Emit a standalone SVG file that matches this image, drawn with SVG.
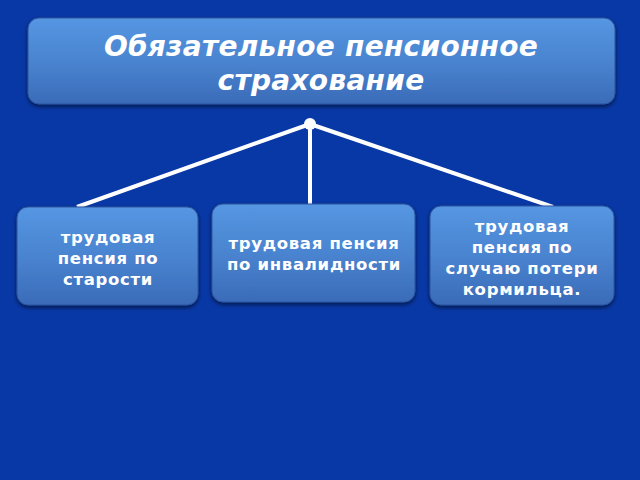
<svg xmlns="http://www.w3.org/2000/svg" width="640" height="480" viewBox="0 0 640 480">
<defs>
<linearGradient id="box" x1="0" y1="0" x2="0" y2="1">
<stop offset="0" stop-color="#5596e2"/>
<stop offset="0.5" stop-color="#4a84d0"/>
<stop offset="1" stop-color="#3a6bb8"/>
</linearGradient>
<filter id="sh" x="-10%" y="-10%" width="120%" height="130%">
<feGaussianBlur in="SourceAlpha" stdDeviation="2"/>
<feOffset dy="2" result="b"/>
<feComponentTransfer in="b" result="c"><feFuncA type="linear" slope="0.6"/></feComponentTransfer>
<feMerge><feMergeNode in="c"/><feMergeNode in="SourceGraphic"/></feMerge>
</filter>
</defs>
<style>
.node rect{fill:url(#box);stroke:#2a55a0;stroke-width:1;filter:url(#sh)}
.t{font-family:"DejaVu Sans",sans-serif;font-weight:bold;fill:#fff;text-anchor:middle;font-size:16.5px;letter-spacing:0.7px}
.title{font-family:"DejaVu Sans",sans-serif;font-weight:bold;font-style:italic;fill:#fff;text-anchor:middle;font-size:28px;letter-spacing:0.3px}
.conn line{stroke:#fff;stroke-width:4}
</style>
<rect width="640" height="480" fill="#0838a6"/>
<g id="connectors" class="conn">
<line x1="310" y1="124" x2="77" y2="207"/>
<line x1="310" y1="124" x2="310" y2="205"/>
<line x1="310" y1="124" x2="553" y2="207"/>
<circle cx="310" cy="124" r="6" fill="#fff"/>
</g>
<g id="root" class="node">
<rect x="28" y="18" width="587" height="86" rx="11"/>
<text class="title" x="321" y="56">Обязательное пенсионное</text>
<text class="title" x="321" y="90">страхование</text>
</g>
<g id="old-age" class="node">
<rect x="17" y="207" width="181" height="98" rx="11"/>
<text class="t" x="108" y="243">трудовая</text>
<text class="t" x="108" y="264">пенсия по</text>
<text class="t" x="108" y="285">старости</text>
</g>
<g id="disability" class="node">
<rect x="212" y="204" width="203" height="98" rx="11"/>
<text class="t" x="314" y="249">трудовая пенсия</text>
<text class="t" x="314" y="270">по инвалидности</text>
</g>
<g id="survivor" class="node">
<rect x="430" y="206" width="184" height="99" rx="11"/>
<text class="t" x="522" y="232">трудовая</text>
<text class="t" x="522" y="253">пенсия по</text>
<text class="t" x="522" y="274">случаю потери</text>
<text class="t" x="522" y="295">кормильца.</text>
</g>
</svg>
